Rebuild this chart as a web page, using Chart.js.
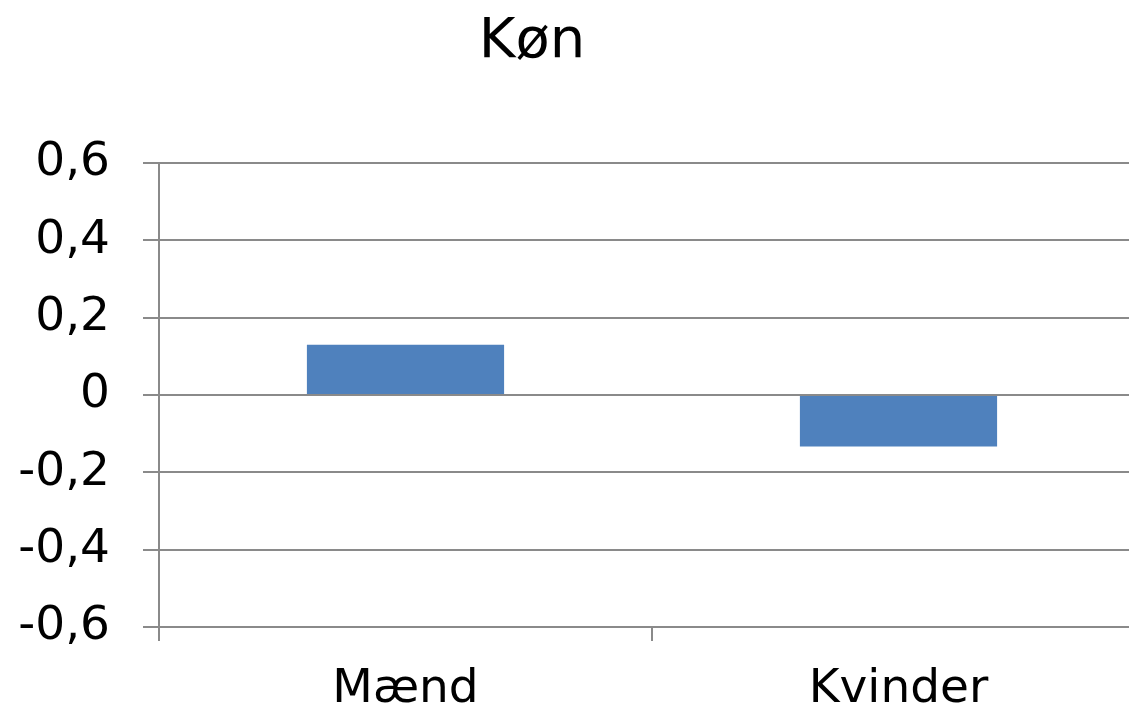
<!DOCTYPE html>
<html>
<head>
<meta charset="utf-8">
<script src="https://cdn.jsdelivr.net/npm/chart.js@4.4.0/dist/chart.umd.min.js"></script>
<style>
  html, body { margin: 0; padding: 0; background: #fff; overflow: hidden; }
  #wrap { position: relative; width: 1129px; height: 711px; overflow: hidden; }
  #title {
    position: absolute; left: 432px; top: 10px; width: 200px;
    text-align: center; font-family: "DejaVu Sans", Verdana, sans-serif;
    font-size: 56px; line-height: 56px; color: #000;
  }
  #myKonChart { position: absolute; left: 0; top: 0; }
</style>
</head>
<body>
<div id="wrap">
  <div id="title">Køn</div>
  <canvas id="myKonChart" width="1145" height="711"></canvas>
</div>
<script>
const kategorier = ["Mænd", "Kvinder"];
const vaerdier = [0.13, -0.133];
const yMin = -0.6;
const yMax = 0.6;
const yStep = 0.2;

const gridFarve = "#8a8a8a";
const tickFont = { family: "DejaVu Sans", size: 47 };

let myKonChart;
const generateKonChart = () => {
  let ctx = document.getElementById("myKonChart").getContext("2d");
  if (myKonChart) {
    myKonChart.destroy();
  }
  myKonChart = new Chart(ctx, {
    type: "bar",
    data: {
      labels: kategorier,
      datasets: [
        {
          label: "Køn",
          data: vaerdier,
          backgroundColor: "#4F81BD",
          borderWidth: 0,
          barPercentage: 0.4,
          categoryPercentage: 1,
        },
      ],
    },
    options: {
      responsive: false,
      animation: false,
      layout: { padding: { top: 163, right: 0, bottom: 0, left: 0 } },
      plugins: {
        legend: { display: false },
        title: { display: false },
        tooltip: { enabled: false },
      },
      scales: {
        x: {
          afterFit: (axis) => { axis.height = 84; },
          grid: {
            offset: true,
            drawOnChartArea: false,
            tickLength: 14,
            color: gridFarve,
            lineWidth: 2,
          },
          border: { color: gridFarve, width: 2 },
          ticks: {
            color: "#000",
            padding: 21,
            font: tickFont,
            maxRotation: 0,
          },
        },
        y: {
          min: yMin,
          max: yMax,
          afterFit: (axis) => { axis.width = 159; },
          grid: {
            tickLength: 16,
            color: gridFarve,
            lineWidth: 2,
          },
          border: { color: gridFarve, width: 2 },
          ticks: {
            stepSize: yStep,
            color: "#000",
            padding: 33,
            font: tickFont,
            callback: (v) => Math.abs(v) < 1e-9 ? "0" : v.toFixed(1).replace(".", ","),
          },
        },
      },
    },
  });
};
generateKonChart();
</script>
</body>
</html>
